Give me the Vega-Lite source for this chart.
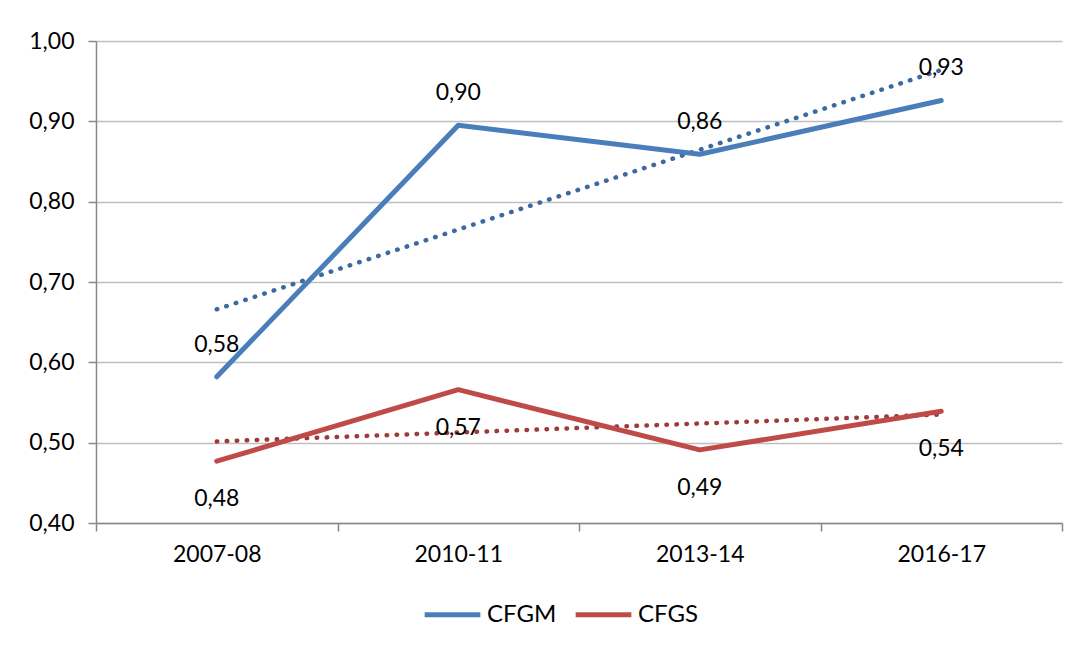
{
  "$schema": "https://vega.github.io/schema/vega-lite/v6.json",
  "autosize": "none",
  "width": 966,
  "height": 482,
  "padding": {"left": 96, "top": 41, "right": 19, "bottom": 122},
  "background": "white",
  "config": {
    "font": "Lato",
    "view": {"stroke": null},
    "locale": {"number": {"decimal": ",", "thousands": ".", "grouping": [3], "currency": ["", " €"]}}
  },
  "datasets": {
    "main": [
      {"period": "2007-08", "series": "CFGM", "value": 0.582},
      {"period": "2010-11", "series": "CFGM", "value": 0.895},
      {"period": "2013-14", "series": "CFGM", "value": 0.859},
      {"period": "2016-17", "series": "CFGM", "value": 0.926},
      {"period": "2007-08", "series": "CFGS", "value": 0.477},
      {"period": "2010-11", "series": "CFGS", "value": 0.566},
      {"period": "2013-14", "series": "CFGS", "value": 0.491},
      {"period": "2016-17", "series": "CFGS", "value": 0.539}
    ],
    "trend": [
      {"period": "2007-08", "series": "CFGM", "value": 0.666},
      {"period": "2016-17", "series": "CFGM", "value": 0.964},
      {"period": "2007-08", "series": "CFGS", "value": 0.5015},
      {"period": "2016-17", "series": "CFGS", "value": 0.535}
    ]
  },
  "encoding": {
    "x": {
      "field": "period", "type": "nominal", "bandPosition": 0.5,
      "scale": {"type": "band", "paddingInner": 0, "paddingOuter": 0, "domain": ["2007-08", "2010-11", "2013-14", "2016-17"]},
      "axis": {
        "title": null, "labelAngle": 0, "tickBand": "extent", "grid": false,
        "domainColor": "#888888", "domainWidth": 1.5, "tickColor": "#888888", "tickWidth": 1.5, "tickSize": 8,
        "labelFontSize": 23, "labelColor": "#000000", "labelPadding": 12, "labelFont": "Lato"
      }
    },
    "y": {
      "field": "value", "type": "quantitative",
      "scale": {"domain": [0.4, 1.0], "nice": false, "zero": false},
      "axis": {
        "title": null, "values": [0.4, 0.5, 0.6, 0.7, 0.8, 0.9, 1.0],
        "labelExpr": "replace(format(datum.value, '.2f'), '.', ',')",
        "grid": true, "gridColor": "#bfbfbf", "gridWidth": 1.5,
        "domainColor": "#888888", "domainWidth": 1.5, "tickColor": "#888888", "tickWidth": 1.5, "tickSize": 8,
        "labelFontSize": 23, "labelColor": "#000000", "labelPadding": 14, "labelFont": "Lato"
      }
    }
  },
  "layer": [
    {
      "data": {"name": "trend"},
      "transform": [{"filter": "datum.series == 'CFGM'"}],
      "mark": {"type": "line", "strokeWidth": 4.5, "strokeCap": "round", "strokeDash": [0.5, 9.5], "color": "#3b6aa0"},
      "encoding": {}
    },
    {
      "data": {"name": "trend"},
      "transform": [{"filter": "datum.series == 'CFGS'"}],
      "mark": {"type": "line", "strokeWidth": 4.5, "strokeCap": "round", "strokeDash": [0.5, 9.5], "color": "#9e3a38"},
      "encoding": {}
    },
    {
      "data": {"name": "main"},
      "mark": {"type": "line", "strokeWidth": 5, "strokeCap": "round", "strokeJoin": "round"},
      "encoding": {
        "color": {
          "field": "series", "type": "nominal",
          "scale": {"domain": ["CFGM", "CFGS"], "range": ["#4a7ebb", "#be4b48"]},
          "legend": {
            "title": null, "orient": "none", "direction": "horizontal", "legendX": 326, "legendY": 543,
            "symbolType": "stroke", "symbolSize": 3100, "symbolStrokeWidth": 5,
            "labelFontSize": 24, "labelColor": "#000000", "labelFont": "Lato", "labelOffset": 4, "columnPadding": 8
          }
        }
      }
    },
    {
      "data": {"name": "main"},
      "transform": [{"filter": "datum.series == 'CFGM'"}],
      "mark": {"type": "text", "fontSize": 23, "dy": -25, "baseline": "alphabetic", "color": "#000000", "font": "Lato"},
      "encoding": {"text": {"field": "value", "type": "quantitative", "format": ".2f"}}
    },
    {
      "data": {"name": "main"},
      "transform": [{"filter": "datum.series == 'CFGS'"}],
      "mark": {"type": "text", "fontSize": 23, "dy": 45, "baseline": "alphabetic", "color": "#000000", "font": "Lato"},
      "encoding": {"text": {"field": "value", "type": "quantitative", "format": ".2f"}}
    }
  ]
}
